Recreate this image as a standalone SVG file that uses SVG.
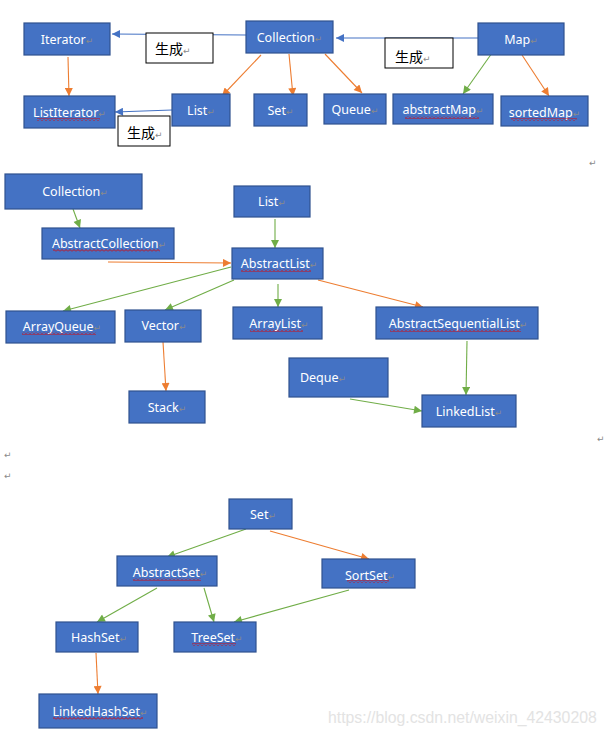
<svg xmlns="http://www.w3.org/2000/svg" width="607" height="735" viewBox="0 0 607 735">
<style>
.box{fill:#4472C4;stroke:#2F528F;stroke-width:1.2}
.lbl{fill:#ffffff;font-family:"Noto Sans","Liberation Sans",sans-serif;font-size:12.5px;text-anchor:middle}
.pm{fill:#8a8a8a;font-family:"DejaVu Sans",sans-serif;font-size:9px}
.note{fill:#ffffff;stroke:#000000;stroke-width:1}
.ntxt{fill:#000000;font-family:"Noto Sans CJK SC",sans-serif;font-size:14px}
.o{stroke:#ED7D31;stroke-width:1.1;fill:none;marker-end:url(#ao)}
.g{stroke:#70AD47;stroke-width:1.1;fill:none;marker-end:url(#ag)}
.b{stroke:#4472C4;stroke-width:1.1;fill:none;marker-end:url(#ab)}
.sq{fill:url(#wavy)}
</style>
<defs>
<marker id="ao" viewBox="0 0 10 10" refX="10" refY="5" markerWidth="9" markerHeight="8" markerUnits="userSpaceOnUse" orient="auto"><path d="M0,0 L10,5 L0,10 z" fill="#ED7D31"/></marker>
<marker id="ag" viewBox="0 0 10 10" refX="10" refY="5" markerWidth="9" markerHeight="8" markerUnits="userSpaceOnUse" orient="auto"><path d="M0,0 L10,5 L0,10 z" fill="#70AD47"/></marker>
<marker id="ab" viewBox="0 0 10 10" refX="10" refY="5" markerWidth="9" markerHeight="8" markerUnits="userSpaceOnUse" orient="auto"><path d="M0,0 L10,5 L0,10 z" fill="#4472C4"/></marker>
<pattern id="wavy" x="0" y="0" width="4" height="3" patternUnits="userSpaceOnUse"><path d="M0,2.5 L2,0.5 L4,2.5" stroke="#E00000" stroke-width="0.9" fill="none"/></pattern>
</defs>

<g id="connectors">
  <line class="b" x1="246" y1="35" x2="112" y2="34"/>
  <line class="b" x1="478" y1="38" x2="336" y2="38"/>
  <line class="o" x1="68" y1="57" x2="69" y2="96"/>
  <line class="b" x1="172" y1="110" x2="115" y2="112"/>
  <line class="o" x1="261" y1="55" x2="222" y2="96"/>
  <line class="o" x1="289" y1="54" x2="293" y2="96"/>
  <line class="o" x1="325" y1="54" x2="362" y2="93"/>
  <line class="g" x1="492" y1="53" x2="463" y2="94"/>
  <line class="o" x1="522" y1="55" x2="549" y2="96"/>

  <line class="g" x1="73" y1="209" x2="80" y2="228"/>
  <line class="o" x1="108" y1="262" x2="231" y2="263"/>
  <line class="g" x1="275" y1="219" x2="275" y2="248"/>
  <line class="g" x1="231" y1="267" x2="63" y2="311"/>
  <line class="g" x1="234" y1="280" x2="165" y2="310"/>
  <line class="g" x1="278" y1="284" x2="278" y2="307"/>
  <line class="o" x1="318" y1="280" x2="423" y2="307"/>
  <line class="o" x1="163" y1="342" x2="166" y2="391"/>
  <line class="g" x1="467" y1="341" x2="466" y2="395"/>
  <line class="g" x1="350" y1="399" x2="422" y2="411"/>

  <line class="g" x1="246" y1="529" x2="167" y2="557"/>
  <line class="o" x1="270" y1="531" x2="369" y2="559"/>
  <line class="g" x1="157" y1="588" x2="97" y2="622"/>
  <line class="g" x1="204" y1="588" x2="214" y2="622"/>
  <line class="g" x1="349" y1="590" x2="234" y2="622"/>
  <line class="o" x1="96" y1="653" x2="98" y2="694"/>
</g>

<g id="n-iterator"><rect class="box" x="24" y="23" width="86" height="32"/><text class="lbl" x="67" y="44">Iterator<tspan class="pm">↵</tspan></text></g>
<g id="n-listiterator"><rect class="box" x="24" y="96" width="91" height="32"/><text class="lbl" x="69.5" y="117">ListIterator<tspan class="pm">↵</tspan></text><rect class="sq" x="37" y="118" width="63" height="3"/></g>
<g id="n-collection"><rect class="box" x="246" y="21" width="87" height="32"/><text class="lbl" x="289.5" y="42">Collection<tspan class="pm">↵</tspan></text></g>
<g id="n-map"><rect class="box" x="478" y="23" width="86" height="32"/><text class="lbl" x="521" y="44">Map<tspan class="pm">↵</tspan></text></g>
<g id="n-list"><rect class="box" x="172" y="94" width="58" height="32"/><text class="lbl" x="201" y="115">List<tspan class="pm">↵</tspan></text></g>
<g id="n-set"><rect class="box" x="254" y="94" width="53" height="32"/><text class="lbl" x="280.5" y="115">Set<tspan class="pm">↵</tspan></text></g>
<g id="n-queue"><rect class="box" x="324" y="94" width="62" height="30"/><text class="lbl" x="355" y="114">Queue<tspan class="pm">↵</tspan></text></g>
<g id="n-abstractmap"><rect class="box" x="393" y="94" width="100" height="30"/><text class="lbl" x="443" y="114">abstractMap<tspan class="pm">↵</tspan></text><rect class="sq" x="405" y="116" width="74" height="3"/></g>
<g id="n-sortedmap"><rect class="box" x="501" y="96" width="87" height="30"/><text class="lbl" x="544.5" y="117">sortedMap<tspan class="pm">↵</tspan></text><rect class="sq" x="511" y="118" width="66" height="3"/></g>

<g id="note-1"><rect class="note" x="146" y="33" width="67" height="30"/><text class="ntxt" x="155" y="54">生成<tspan class="pm">↵</tspan></text></g>
<g id="note-2"><rect class="note" x="118" y="116" width="52" height="30"/><text class="ntxt" x="127" y="138">生成<tspan class="pm">↵</tspan></text></g>
<g id="note-3"><rect class="note" x="385" y="38" width="68" height="30"/><text class="ntxt" x="395" y="62">生成<tspan class="pm">↵</tspan></text></g>

<g id="n-collection2"><rect class="box" x="5" y="174" width="137" height="35"/><text class="lbl" x="75" y="196">Collection<tspan class="pm">↵</tspan></text></g>
<g id="n-abstractcollection"><rect class="box" x="42" y="228" width="132" height="31"/><text class="lbl" x="109" y="248">AbstractCollection<tspan class="pm">↵</tspan></text><rect class="sq" x="53" y="249" width="107" height="3"/></g>
<g id="n-list2"><rect class="box" x="234" y="186" width="76" height="31"/><text class="lbl" x="272" y="206">List<tspan class="pm">↵</tspan></text></g>
<g id="n-abstractlist"><rect class="box" x="232" y="248" width="91" height="31"/><text class="lbl" x="279" y="268">AbstractList<tspan class="pm">↵</tspan></text><rect class="sq" x="241" y="269" width="70" height="3"/></g>
<g id="n-arrayqueue"><rect class="box" x="6" y="311" width="109" height="32"/><text class="lbl" x="62" y="331">ArrayQueue<tspan class="pm">↵</tspan></text><rect class="sq" x="22" y="332" width="74" height="3"/></g>
<g id="n-vector"><rect class="box" x="125" y="310" width="76" height="32"/><text class="lbl" x="164" y="330">Vector<tspan class="pm">↵</tspan></text></g>
<g id="n-arraylist"><rect class="box" x="233" y="307" width="89" height="32"/><text class="lbl" x="279" y="328">ArrayList<tspan class="pm">↵</tspan></text><rect class="sq" x="250" y="329" width="53" height="3"/></g>
<g id="n-abstractsequentiallist"><rect class="box" x="376" y="307" width="162" height="32"/><text class="lbl" x="458" y="328">AbstractSequentialList<tspan class="pm">↵</tspan></text><rect class="sq" x="390" y="329" width="131" height="3"/></g>
<g id="n-stack"><rect class="box" x="129" y="391" width="76" height="32"/><text class="lbl" x="167" y="412">Stack<tspan class="pm">↵</tspan></text></g>
<g id="n-deque"><rect class="box" x="289" y="358" width="99" height="39"/><text class="lbl" x="323" y="382">Deque<tspan class="pm">↵</tspan></text></g>
<g id="n-linkedlist"><rect class="box" x="422" y="395" width="94" height="32"/><text class="lbl" x="469" y="416">LinkedList<tspan class="pm">↵</tspan></text></g>

<g id="n-set3"><rect class="box" x="229" y="499" width="63" height="30"/><text class="lbl" x="263" y="519">Set<tspan class="pm">↵</tspan></text></g>
<g id="n-abstractset"><rect class="box" x="117" y="556" width="100" height="30"/><text class="lbl" x="170" y="577">AbstractSet<tspan class="pm">↵</tspan></text><rect class="sq" x="133" y="578" width="68" height="3"/></g>
<g id="n-sortset"><rect class="box" x="322" y="559" width="93" height="29"/><text class="lbl" x="370" y="580">SortSet<tspan class="pm">↵</tspan></text><rect class="sq" x="347" y="580" width="42" height="3"/></g>
<g id="n-hashset"><rect class="box" x="56" y="622" width="82" height="30"/><text class="lbl" x="99" y="642">HashSet<tspan class="pm">↵</tspan></text></g>
<g id="n-treeset"><rect class="box" x="174" y="622" width="82" height="30"/><text class="lbl" x="217" y="642">TreeSet<tspan class="pm">↵</tspan></text><rect class="sq" x="192" y="643" width="44" height="3"/></g>
<g id="n-linkedhashset"><rect class="box" x="39" y="694" width="118" height="34"/><text class="lbl" x="100" y="716">LinkedHashSet<tspan class="pm">↵</tspan></text><rect class="sq" x="53" y="717" width="90" height="3"/></g>

<g id="marks">
  <text class="pm" x="589" y="166">↵</text>
  <text class="pm" x="597" y="442">↵</text>
  <text class="pm" x="4" y="458">↵</text>
  <text class="pm" x="4" y="479">↵</text>
</g>
<text x="328" y="723" font-family="Liberation Sans, sans-serif" font-size="15.8" fill="#e3e3e3">https://blog.csdn.net/weixin_42430208</text>
</svg>
